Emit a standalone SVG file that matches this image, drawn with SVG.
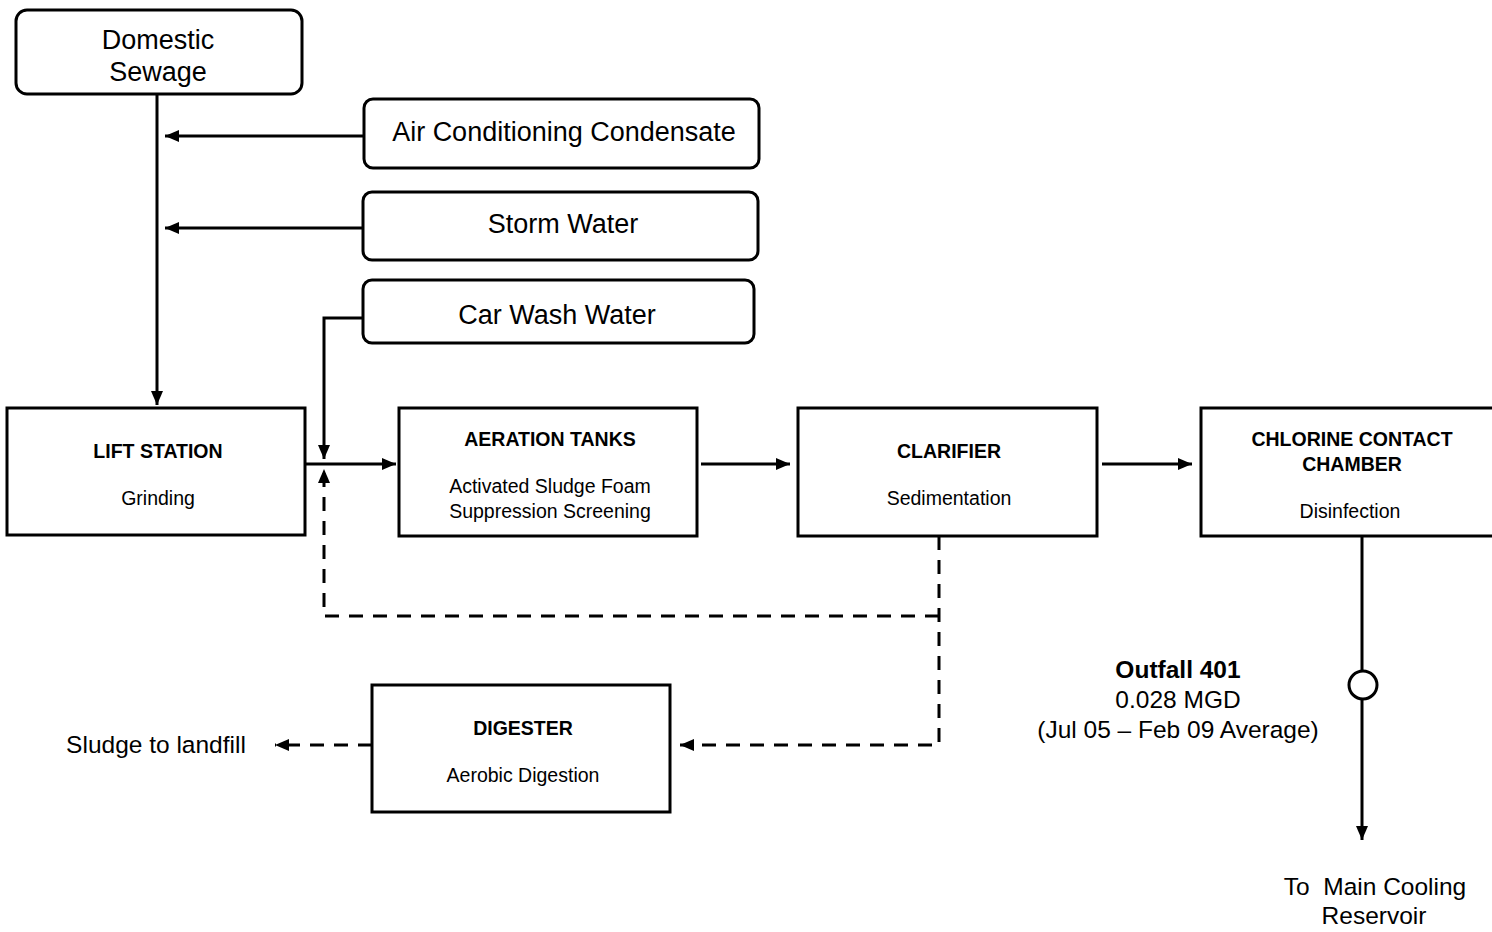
<svg xmlns="http://www.w3.org/2000/svg" width="1492" height="932" viewBox="0 0 1492 932">
<style>
.box{fill:#fff;stroke:#000;stroke-width:3}
.ln{fill:none;stroke:#000;stroke-width:3}
.dash{fill:none;stroke:#000;stroke-width:3;stroke-dasharray:14 10}
.t{font-family:"Liberation Sans",Arial,sans-serif;fill:#000;text-anchor:middle}
.big{font-size:27px}
.hd{font-size:19.5px;font-weight:bold}
.sb{font-size:19.5px}
.lb{font-size:24.5px}
</style>
<defs>
<marker id="ah" viewBox="0 0 14 12" refX="14" refY="6" markerWidth="14" markerHeight="12" markerUnits="userSpaceOnUse" orient="auto">
<path d="M0,0 L14,6 L0,12 Z" fill="#000"/>
</marker>
</defs>
<rect width="1492" height="932" fill="#fff"/>
<g id="connectors">
<line class="ln" x1="157" y1="94" x2="157" y2="405" marker-end="url(#ah)"/>
<line class="ln" x1="364" y1="136" x2="165" y2="136" marker-end="url(#ah)"/>
<line class="ln" x1="363" y1="228" x2="165" y2="228" marker-end="url(#ah)"/>
<polyline class="ln" points="363,318 324,318 324,459" marker-end="url(#ah)"/>
<line class="ln" x1="305" y1="464" x2="396" y2="464" marker-end="url(#ah)"/>
<line class="ln" x1="701" y1="464" x2="790" y2="464" marker-end="url(#ah)"/>
<line class="ln" x1="1102" y1="464" x2="1192" y2="464" marker-end="url(#ah)"/>
<line class="ln" x1="1362" y1="536" x2="1362" y2="671"/>
<circle cx="1363" cy="685" r="14" fill="#fff" stroke="#000" stroke-width="3"/>
<line class="ln" x1="1362" y1="699" x2="1362" y2="840" marker-end="url(#ah)"/>
<polyline class="dash" points="939,536 939,745 680,745" marker-end="url(#ah)"/>
<polyline class="dash" points="939,616 324,616 324,469" marker-end="url(#ah)"/>
<line class="dash" x1="372" y1="745" x2="275" y2="745" marker-end="url(#ah)"/>
</g>
<g id="domestic">
<rect class="box" x="16" y="10" width="286" height="84" rx="11"/>
<text class="t big" x="158" y="49">Domestic</text>
<text class="t big" x="158" y="81">Sewage</text>
</g>
<g id="aircon">
<rect class="box" x="364" y="99" width="395" height="69" rx="9"/>
<text class="t big" x="564" y="141">Air Conditioning Condensate</text>
</g>
<g id="storm">
<rect class="box" x="363" y="192" width="395" height="68" rx="9"/>
<text class="t big" x="563" y="233">Storm Water</text>
</g>
<g id="carwash">
<rect class="box" x="363" y="280" width="391" height="63" rx="9"/>
<text class="t big" x="557" y="324">Car Wash Water</text>
</g>
<g id="lift">
<rect class="box" x="7" y="408" width="298" height="127"/>
<text class="t hd" x="158" y="458">LIFT STATION</text>
<text class="t sb" x="158" y="505">Grinding</text>
</g>
<g id="aeration">
<rect class="box" x="399" y="408" width="298" height="128"/>
<text class="t hd" x="550" y="446">AERATION TANKS</text>
<text class="t sb" x="550" y="493">Activated Sludge Foam</text>
<text class="t sb" x="550" y="518">Suppression Screening</text>
</g>
<g id="clarifier">
<rect class="box" x="798" y="408" width="299" height="128"/>
<text class="t hd" x="949" y="458">CLARIFIER</text>
<text class="t sb" x="949" y="505">Sedimentation</text>
</g>
<g id="chlorine">
<rect class="box" x="1201" y="408" width="300" height="128"/>
<text class="t hd" x="1352" y="446">CHLORINE CONTACT</text>
<text class="t hd" x="1352" y="471">CHAMBER</text>
<text class="t sb" x="1350" y="518">Disinfection</text>
</g>
<g id="digester">
<rect class="box" x="372" y="685" width="298" height="127"/>
<text class="t hd" x="523" y="735">DIGESTER</text>
<text class="t sb" x="523" y="782">Aerobic Digestion</text>
</g>
<g id="labels">
<text class="t lb" x="156" y="753">Sludge to landfill</text>
<text class="t lb" x="1178" y="678" font-weight="bold">Outfall 401</text>
<text class="t lb" x="1178" y="708">0.028 MGD</text>
<text class="t lb" x="1178" y="738">(Jul 05 – Feb 09 Average)</text>
<text class="t lb" x="1375" y="895" xml:space="preserve">To  Main Cooling</text>
<text class="t lb" x="1374" y="924">Reservoir</text>
</g>
</svg>
